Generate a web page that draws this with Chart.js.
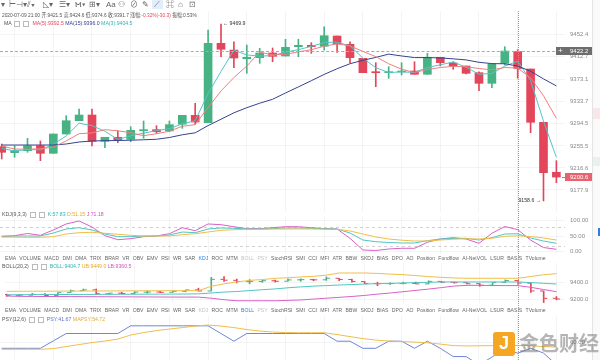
<!DOCTYPE html>
<html><head><meta charset="utf-8">
<script src="https://cdn.jsdelivr.net/npm/chart.js@4.4.1/dist/chart.umd.min.js"></script>
<style>
body{margin:0;background:#fff;}
#wrap{position:relative;width:600px;height:360px;overflow:hidden;background:#fff;font-family:"Liberation Sans","Noto Sans CJK SC",sans-serif;}
canvas{position:absolute;left:0;}
.t{position:absolute;white-space:nowrap;font-size:5.2px;color:#555;line-height:1;}
.ic{display:inline-block;width:4px;height:4px;border:0.6px solid #bbb;margin:0 1.5px;vertical-align:middle;}
.tabs{position:absolute;left:5px;white-space:nowrap;font-size:5.4px;color:#666;line-height:1;transform-origin:0 0;}
.tabs span{margin-right:3.5px;}
.tb{position:absolute;top:1px;font-size:8px;color:#666;line-height:1;}
</style></head><body>
<div id="wrap">
<canvas id="cMain" width="600" height="212" style="top:0"></canvas>
<canvas id="cKdj" width="600" height="42" style="top:212px"></canvas>
<canvas id="cBoll" width="600" height="50" style="top:258px"></canvas>
<canvas id="cPsy" width="600" height="47" style="top:313px"></canvas>
</div>
<script>
// ---------- data ----------
const times = ['07-08 05:00','07-08 06:00','07-08 07:00','07-08 08:00','07-08 09:00','07-08 10:00','07-08 11:00','07-08 12:00','07-08 13:00','07-08 14:00','07-08 15:00','07-08 16:00','07-08 17:00','07-08 18:00','07-08 19:00','07-08 20:00','07-08 21:00','07-08 22:00','07-08 23:00','07-09 00:00','07-09 01:00','07-09 02:00','07-09 03:00','07-09 04:00','07-09 05:00','07-09 06:00','07-09 07:00','07-09 08:00','07-09 09:00','07-09 10:00','07-09 11:00','07-09 12:00','07-09 13:00','07-09 14:00','07-09 15:00','07-09 16:00','07-09 17:00','07-09 18:00','07-09 19:00','07-09 20:00','07-09 21:00','07-09 22:00','07-09 23:00','07-10 00:00'];
const openP  = [9254.0,9243.5,9247.0,9255.8,9242.4,9276.4,9299.8,9309.8,9263.5,9270.6,9267.1,9282.2,9284.0,9281.7,9293.5,9309.3,9296.3,9436.0,9424.2,9408.9,9410.7,9419.0,9413.7,9430.1,9432.5,9430.8,9448.9,9434.3,9409.6,9385.5,9384.3,9385.5,9387.3,9381.5,9411.4,9401.4,9396.1,9384.3,9365.6,9400.8,9421.5,9390.8,9297.0,9209.0];
const closeP = [9244.2,9247.0,9255.8,9242.4,9276.4,9299.8,9309.8,9263.5,9270.6,9266.4,9282.9,9284.0,9280.4,9292.8,9309.3,9297.5,9436.0,9425.5,9410.2,9411.4,9419.0,9413.1,9429.0,9432.5,9430.1,9449.4,9434.8,9410.7,9384.3,9384.3,9385.5,9387.3,9381.5,9411.4,9401.9,9396.1,9383.2,9365.6,9399.6,9422.5,9391.7,9297.0,9208.3,9200.6];
const highP  = [9258.8,9255.8,9268.8,9264.1,9276.4,9308.6,9320.4,9320.4,9270.6,9282.2,9289.2,9299.3,9291.0,9299.3,9309.3,9330.4,9459.4,9469.9,9438.8,9433.0,9427.2,9427.8,9443.1,9443.1,9437.1,9465.2,9448.9,9438.8,9409.6,9401.9,9394.9,9401.9,9403.6,9418.4,9411.4,9403.6,9396.1,9386.0,9399.6,9430.1,9424.6,9390.8,9297.0,9229.4];
const lowP   = [9232.4,9235.4,9244.2,9229.4,9242.4,9276.4,9299.8,9255.3,9252.3,9261.1,9262.8,9268.8,9277.6,9280.4,9286.4,9293.5,9296.3,9412.4,9393.1,9383.2,9400.8,9403.6,9413.7,9412.4,9418.4,9424.2,9420.2,9401.9,9384.3,9359.6,9374.4,9380.2,9381.5,9381.5,9396.1,9390.3,9382.0,9352.6,9357.9,9397.8,9374.6,9278.7,9158.6,9190.7];
const ma5  = [9255.2,9250.0,9249.5,9250.5,9253.2,9264.2,9276.9,9278.3,9284.0,9282.0,9278.7,9273.4,9276.9,9281.3,9290.0,9292.8,9323.2,9352.2,9375.7,9396.1,9420.4,9415.8,9416.5,9421.1,9424.8,9430.8,9435.2,9431.5,9421.8,9412.6,9400.0,9390.4,9384.6,9389.9,9393.4,9395.5,9394.8,9391.7,9389.2,9393.4,9392.5,9375.3,9343.8,9304.0];
const ma15 = [9257.0,9257.0,9257.0,9257.0,9257.0,9258.8,9262.3,9264.1,9264.6,9265.0,9265.5,9266.2,9267.1,9270.2,9275.0,9278.5,9291.2,9302.4,9313.7,9322.7,9330.6,9337.5,9348.6,9359.3,9370.2,9381.3,9391.3,9400.1,9406.1,9411.2,9417.0,9413.8,9410.9,9410.9,9410.3,9408.7,9406.8,9402.6,9400.3,9400.0,9396.0,9386.9,9373.4,9361.0];
const ma3  = [9251.2,9246.5,9249.0,9248.4,9258.2,9272.9,9295.4,9291.0,9281.3,9266.9,9273.2,9277.8,9282.4,9285.7,9294.2,9299.8,9347.7,9386.4,9423.9,9415.6,9413.5,9414.5,9420.4,9424.9,9430.6,9437.3,9438.1,9431.6,9410.0,9393.1,9384.6,9385.7,9384.8,9393.4,9398.2,9403.1,9393.8,9381.6,9382.9,9395.9,9404.5,9370.5,9299.1,9235.2];
const kdjK = [50.6,50.6,50.6,50.6,60.3,73.2,77.4,70.0,57.1,48.4,48.4,50.6,50.6,53.9,63.5,61.3,73.2,76.5,75.5,73.2,73.2,74.2,76.5,76.5,75.5,73.9,73.2,60.3,37.7,32.3,29.7,28.1,28.1,35.5,41.0,42.6,43.2,37.7,45.2,57.1,57.83,44.2,34.5,27.1];
const kdjD = [47.4,46.8,46.4,46.4,48.4,57.1,61.3,62.6,59.3,56.1,52.9,50.6,50.6,50.6,54.8,58.0,63.5,69.0,70.9,72.2,72.2,73.2,73.2,73.2,73.2,72.6,72.2,66.8,57.1,47.4,41.0,37.1,34.5,34.5,37.7,40.3,41.9,41.0,43.2,49.7,51.15,49.0,44.2,37.7];
const kdjJ = [48.4,51.6,58.7,52.9,70.0,89.4,99.0,79.6,51.6,38.7,41.9,48.4,50.6,58.0,77.4,67.7,89.4,87.1,80.6,74.2,74.2,77.4,80.6,80.6,77.4,74.2,73.2,43.2,5.5,3.9,8.7,11.0,11.0,30.3,41.0,45.2,41.0,27.1,59.3,81.3,71.18,37.7,13.5,7.7];
const bollUB = [9292.2,9292.8,9293.4,9294.0,9294.6,9295.2,9295.8,9296.4,9297.0,9297.6,9298.2,9298.8,9299.4,9300.0,9300.2,9300.5,9352.6,9381.8,9404.7,9423.5,9433.9,9448.5,9454.7,9465.1,9472.4,9486.0,9512.0,9512.0,9512.0,9506.8,9498.5,9492.2,9480.7,9469.3,9460.0,9452.6,9449.0,9449.0,9449.0,9449.0,9449.0,9470.3,9491.2,9504.7];
const bollMB = [9251.6,9252.2,9252.8,9253.4,9254.0,9254.6,9255.2,9255.8,9256.4,9257.0,9257.6,9258.2,9258.8,9259.4,9260.0,9262.0,9272.4,9283.9,9290.0,9301.6,9312.0,9321.4,9334.9,9345.3,9354.7,9361.0,9368.2,9373.4,9379.7,9383.9,9388.0,9392.2,9397.4,9400.5,9404.7,9404.7,9404.7,9404.7,9404.7,9404.7,9404.7,9397.4,9389.0,9379.7];
const bollLB = [9235.9,9232.0,9231.3,9230.6,9229.9,9229.2,9228.5,9227.8,9227.1,9226.4,9225.7,9225.0,9224.3,9223.6,9223.4,9223.4,9209.9,9192.2,9179.7,9179.7,9179.7,9179.7,9183.9,9189.0,9199.5,9209.9,9220.3,9230.7,9243.2,9258.9,9272.4,9288.0,9303.7,9319.3,9337.0,9355.7,9364.0,9364.0,9362.0,9361.0,9360.5,9340.1,9314.1,9288.0];
const psy   = [50,50,50,50,62.5,75,75,75,75,75,88,88,88,88,88,88,88,75,62,75,75,75,75,75,75,75,62,62,50,50,62,62,50,62,50,36,36,22,35,50,41.67,50,42,22];
const mapsy = [48.3,48.3,48.3,48.3,49.5,52.9,56.3,59.7,62.2,65.6,72.4,76.6,80.0,82.5,85.0,87.6,89.3,87.6,85.0,81.7,79.2,77.5,76.6,76.3,76.3,76.3,73.2,69.8,66.4,63.9,62.2,61.4,60.5,59.3,57.1,54.6,54.0,54.2,54.5,54.6,54.72,54.0,53.0,52.0];
const priceTicks = [9177.9,9216.6,9255.5,9294.5,9333.7,9373.1,9412.7,9452.4];
const kdjTicks = [0,50,100];
const bollTicks = [9200,9400];
const psyTicks = [60];
const gridIdx = [1,4,7,10,13,16,19,22,25,28,31,34,37,40,43];
const crossIdx = 40, crossPrice = 9422.2, lastPrice = 9200.6;
const tabNames = ['EMA','VOLUME','MACD','DMI','DMA','TRIX','BRAR','VR','OBV','EMV','RSI','WR','SAR','KDJ','ROC','MTM','BOLL','PSY','StochRSI','SMI','CCI','MFI','ATR','BBW','SKDJ','BIAS','DPO','AO','Position','Fundflow','AI-NetVOL','LSUR','BASIS','TVolume'];

// ---------- styles ----------
const UP='#47b283', DOWN='#e3465a', GRID='rgba(0,0,0,0.045)';
const C_MA5='#ee8080', C_MA15='#34428f', C_MA3='#52c5c8';
const C_K='#4fc6c0', C_D='#f0bd4a', C_J='#d861c8';
Chart.defaults.font.family='"Liberation Sans","Noto Sans CJK SC",sans-serif';
Chart.defaults.animation=false;
Chart.defaults.events=[];
Chart.defaults.plugins.legend.display=false;
Chart.defaults.plugins.tooltip.enabled=false;

const X_MIN=-0.132, X_MAX=43.668;
const idx = openP.map((_,i)=>i);
const colors = idx.map(i=> closeP[i]>=openP[i]?UP:DOWN);
function xAxis(){return {type:'linear',min:X_MIN,max:X_MAX,offset:false,border:{display:false},
  grid:{color:GRID,drawTicks:false,offset:false},ticks:{display:false},
  afterBuildTicks:s=>{s.ticks=gridIdx.map(v=>({value:v}));},
  afterFit:s=>{s.height=0;s.paddingLeft=0;s.paddingRight=0;}};}
function yAxis(min,max,ticks,fmt){return {position:'right',min,max,border:{display:false},
  grid:{color:GRID,drawTicks:false},ticks:{padding:5,color:'#8a8a8a',font:{size:6},callback:fmt},
  afterBuildTicks:s=>{s.ticks=ticks.map(v=>({value:v}));},
  afterFit:s=>{s.width=35;s.paddingTop=0;s.paddingBottom=0;}};}
const hlinePlugin={id:'hl',beforeDatasetsDraw(ch,a,o){if(!o.lines)return;const ctx=ch.ctx,ca=ch.chartArea;ctx.save();
  o.lines.forEach(l=>{const y=Math.round(ch.scales.y.getPixelForValue(l.v))+0.5;ctx.strokeStyle=l.color;ctx.lineWidth=1;ctx.setLineDash(l.dash||[]);
  ctx.beginPath();ctx.moveTo(ca.left,y);ctx.lineTo(ca.right,y);ctx.stroke();});ctx.restore();}};
function line(data,color,w){return {type:'line',data:data.map((v,i)=>({x:i,y:v})),borderColor:color,borderWidth:w||1,pointRadius:0,tension:0,fill:false};}

// main
const mainChart=new Chart(document.getElementById('cMain'),{
  type:'bar',
  data:{datasets:[
    {type:'bar',data:idx.map(i=>({x:i,y:[lowP[i],highP[i]]})),backgroundColor:colors,barThickness:1,grouped:false,order:3},
    {type:'bar',data:idx.map(i=>({x:i,y:[openP[i],closeP[i]]})),backgroundColor:colors,barThickness:8,minBarLength:1,grouped:false,order:2},
    Object.assign(line(ma5,C_MA5),{order:1}),
    Object.assign(line(ma15,C_MA15),{order:1}),
    Object.assign(line(ma3,C_MA3),{order:1})
  ]},
  options:{responsive:false,devicePixelRatio:1,layout:{padding:{top:11,left:0,right:0,bottom:0}},
    scales:{x:xAxis(),y:yAxis(9139.1,9492.9,priceTicks,v=>v.toFixed(1))}}
});

// KDJ
const kdjChart=new Chart(document.getElementById('cKdj'),{
  type:'line',
  data:{datasets:[line(kdjD,C_D),line(kdjK,C_K),line(kdjJ,C_J)]},
  options:{responsive:false,devicePixelRatio:1,layout:{padding:{top:5,left:0,right:0,bottom:0}},
    scales:{x:xAxis(),y:yAxis(-7.4,111.9,kdjTicks,v=>v.toFixed(2))},
    plugins:{hl:{lines:[{v:80,color:'rgba(0,0,0,0.18)',dash:[3,3]},{v:20,color:'rgba(0,0,0,0.18)',dash:[3,3]}]}}},
  plugins:[hlinePlugin]
});

// BOLL
const bollChart=new Chart(document.getElementById('cBoll'),{
  type:'bar',
  data:{datasets:[
    {type:'bar',data:idx.map(i=>({x:i,y:[lowP[i],highP[i]]})),backgroundColor:colors,barThickness:1,minBarLength:1,grouped:false,order:3},
    {type:'line',data:idx.map(i=>({x:i-0.16,y:openP[i]})),showLine:false,pointStyle:'line',pointRadius:1.6,pointBorderWidth:1,pointBorderColor:colors,order:2},
    {type:'line',data:idx.map(i=>({x:i+0.16,y:closeP[i]})),showLine:false,pointStyle:'line',pointRadius:1.6,pointBorderWidth:1,pointBorderColor:colors,order:2},
    Object.assign(line(bollUB,C_D),{order:1}),
    Object.assign(line(bollMB,C_K),{order:1}),
    Object.assign(line(bollLB,C_J),{order:1})
  ]},
  options:{responsive:false,devicePixelRatio:1,layout:{padding:{top:4,left:0,right:0,bottom:0}},
    scales:{x:xAxis(),y:yAxis(9152.6,9631.8,bollTicks,v=>v.toFixed(1))}}
});

// PSY
const psyChart=new Chart(document.getElementById('cPsy'),{
  type:'line',
  data:{datasets:[line(mapsy,C_D),line(psy,'#6f86d6')]},
  options:{responsive:false,devicePixelRatio:1,layout:{padding:{top:3,left:0,right:0,bottom:0}},
    scales:{x:xAxis(),y:yAxis(30.2,104.6,psyTicks,v=>v.toFixed(2))}}
});

// ---------- text overlays ----------
const wrap=document.getElementById('wrap');
function add(html,cls,css){const d=document.createElement('div');d.className=cls||'t';d.innerHTML=html;Object.assign(d.style,css||{});wrap.appendChild(d);return d;}
function box(css){const d=document.createElement('div');d.style.position='absolute';Object.assign(d.style,css);wrap.appendChild(d);return d;}
function fitWidth(el,w){const s=w/el.offsetWidth;el.style.transformOrigin='0 0';el.style.transform='scaleX('+s.toFixed(3)+')';}

// toolbar
[['▾',1],['⊢⊣▾',9],['⫽▾',27],['◺▾',43],['☰▾',59],['Ⲙ▾',75],['⊞▾',89],['Aa',106],['⚇',118],['⊘',130],['✎',142],['⟋',154],['⌘',166],['⌂',178],['⊡',189]].forEach(([s,x])=>add(s,'tb',{left:x+'px'}));
box({left:'152px',top:'0px',width:'11px',height:'9px',background:'rgba(60,130,230,0.15)'});

const hdr=add('2020-07-09 21:00 开:9421.5 高:9424.6 低:9374.6 收:9391.7 涨幅:<span style="color:#e3465a">-0.32%(-30.3)</span> 振幅:0.53%','t',{left:'2px',top:'13px',fontSize:'5.2px'});
fitWidth(hdr,195);
add('MA <span class="ic"></span><span class="ic"></span> <span style="color:#e3465a">MA(5):9392.5</span> <span style="color:#34428f">MA(15):9396.0</span> <span style="color:#2fb5b5">MA(3):9404.5</span>','t',{left:'4px',top:'21px'});
add('KDJ(9,3,3) <span class="ic"></span><span class="ic"></span> <span style="color:#2fb5b5">K:57.83</span> <span style="color:#e8a92a">D:51.15</span> <span style="color:#d04fc0">J:71.18</span>','t',{left:'2px',top:'212px'});
add('BOLL(20,2) <span class="ic"></span><span class="ic"></span> <span style="color:#2fb5b5">BOLL:9404.7</span> <span style="color:#e8a92a">UB:9449.0</span> <span style="color:#d04fc0">LB:9360.5</span>','t',{left:'2px',top:'264px'});
add('PSY(12,6) <span class="ic"></span><span class="ic"></span> <span style="color:#5a74d0">PSY:41.67</span> <span style="color:#e8a92a">MAPSY:54.72</span>','t',{left:'2px',top:'317px'});

function tabsRow(top,active,dim){const h=tabNames.map((n,k)=>{let c='';if(n===active)c='color:#2f7fe0';else if(dim.includes(n))c='color:#c3c3c3';if(k===tabNames.length-1)c+=';margin-right:0';return '<span style="'+c+'">'+n+'</span>';}).join('');const d=add(h,'tabs',{top:top+'px'});fitWidth(d,541);return d;}
tabsRow(255.5,'KDJ',['BOLL','PSY']);
tabsRow(307.5,'BOLL',['KDJ','PSY']);

// derived positions from scales
const sx=mainChart.scales.x, sy=mainChart.scales.y;
const cx=Math.round(sx.getPixelForValue(crossIdx))+0.5;
box({left:(cx-0.5)+'px',top:'11px',width:'0',height:'349px',borderLeft:'1px dotted #9a9a9a'});
const cy=Math.round(sy.getPixelForValue(crossPrice));
box({left:'0px',top:cy+'px',width:'565px',height:'0',borderTop:'1px dashed #aaa'});
box({left:'556px',top:(cy-4)+'px',width:'36px',height:'8px',background:'#6d6d6d'});
add('+','t',{left:'558px',top:(cy-4.5)+'px',color:'#fff',fontSize:'8px'});
add(crossPrice.toFixed(1),'t',{left:'570px',top:(cy-3)+'px',color:'#fff',fontSize:'6px'});
const ly=Math.round(sy.getPixelForValue(lastPrice));
box({left:'565px',top:(ly-4)+'px',width:'27px',height:'8px',background:'#e7626e'});
box({left:'562px',top:ly+'px',width:'3px',height:'1px',background:'#e7626e'});
add(lastPrice.toFixed(1),'t',{left:'570px',top:(ly-3)+'px',color:'#fff',fontSize:'6px'});
// high/low annotations
let hi=0,lo=0;idx.forEach(i=>{if(highP[i]>highP[hi])hi=i;if(lowP[i]<lowP[lo])lo=i;});
add('← '+highP[hi].toFixed(1),'t',{left:(sx.getPixelForValue(hi)+2)+'px',top:(sy.getPixelForValue(highP[hi])-3)+'px',color:'#333'});
const lowLbl=add(lowP[lo].toFixed(1)+' →','t',{top:(sy.getPixelForValue(lowP[lo])-3)+'px',color:'#333'});
lowLbl.style.left=(sx.getPixelForValue(lo)-2-lowLbl.offsetWidth)+'px';
// right border / side strip
box({left:'592px',top:'0px',width:'1px',height:'360px',background:'#e4e4e4'});
box({left:'593px',top:'0px',width:'7px',height:'360px',background:'#fafafa'});
box({left:'593px',top:'108px',width:'7px',height:'11px',background:'rgba(227,70,90,0.1)'});
box({left:'593px',top:'157px',width:'7px',height:'9px',background:'rgba(71,178,131,0.1)'});
box({left:'598px',top:'228px',width:'2px',height:'8px',background:'#2f7fe0'});
// watermark
box({left:'493px',top:'332px',width:'22px',height:'24px',background:'#f5a623',borderRadius:'3px'});
add('J','t',{left:'499px',top:'334px',color:'#fff',fontSize:'18px',fontWeight:'bold'});
add('金色财经','t',{left:'519px',top:'333px',color:'rgba(120,120,120,0.55)',fontSize:'20px',fontWeight:'bold',fontFamily:'"Noto Sans CJK SC",sans-serif'});
</script>
</body></html>
